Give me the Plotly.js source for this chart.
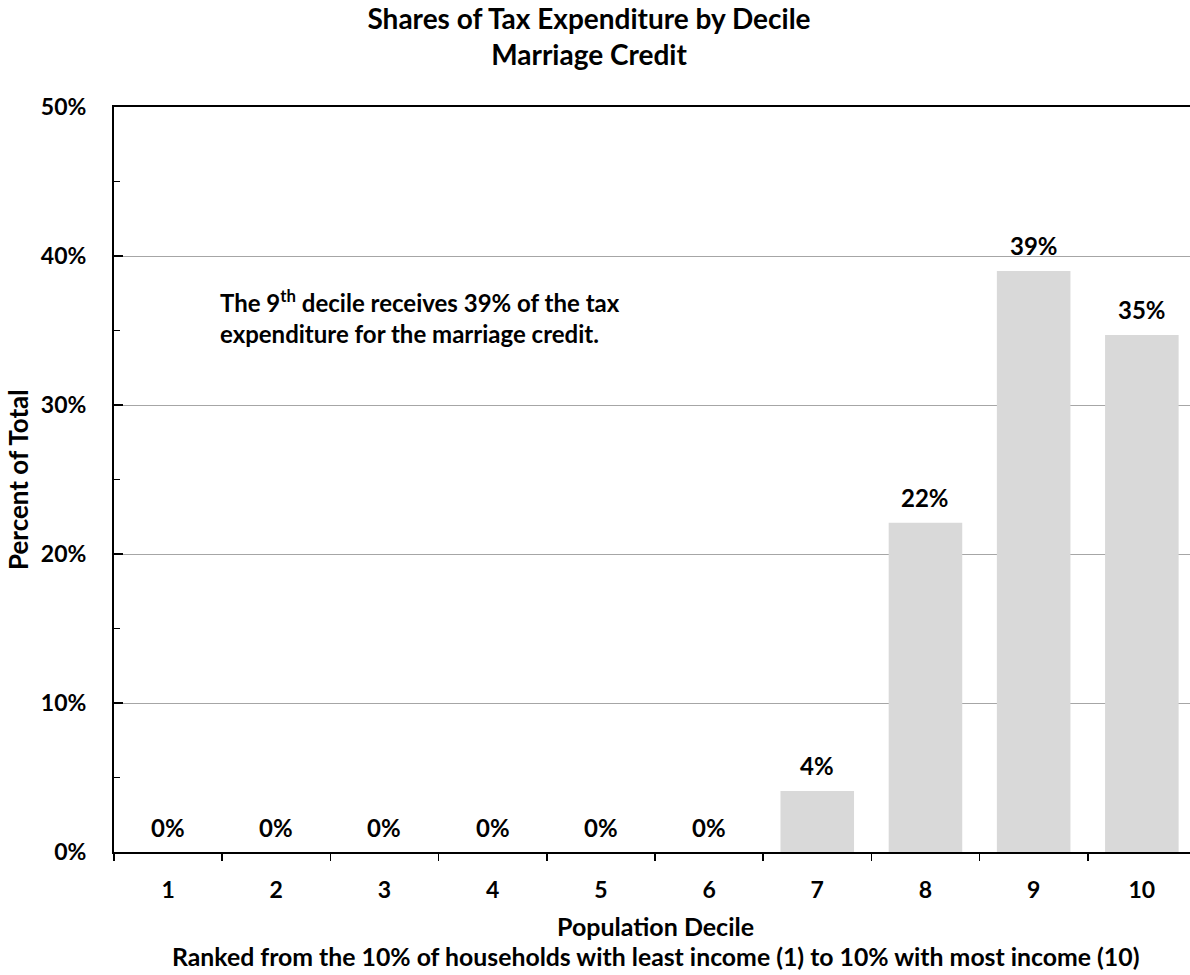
<!DOCTYPE html>
<html>
<head>
<meta charset="utf-8">
<script src="https://cdn.plot.ly/plotly-3.0.1.min.js"></script>
<style>html,body{margin:0;padding:0;background:#fff;overflow:hidden;}#chart{width:1190px;height:975px;}</style>
</head>
<body>
<div id="chart"></div>
<script>
const deciles = ['1','2','3','4','5','6','7','8','9','10'];
const shares = [0, 0, 0, 0, 0, 0, 4.1, 22.1, 39.0, 34.7];
const yTickVals = [0, 10, 20, 30, 40, 50];
const yTickText = ['0%', '10%', '20%', '30%', '40%', '50%'];
const titleText = 'Shares of Tax Expenditure by Decile<br>Marriage Credit';
const yTitle = 'Percent of Total';
const xTitle1 = 'Population Decile';
const xTitle2 = 'Ranked from the 10% of households with least income (1) to 10% with most income (10)';
const noteText = 'The 9<sup>th</sup> decile receives 39% of the tax<br>expenditure for the marriage credit.';

const FONT = 'Lato, "Liberation Sans", sans-serif';
const W = 1190, H = 975, L = 114, R = 0, T = 107, B = 123;
const PW = W - L - R, PH = H - T - B;
const px = v => (v - L) / PW;
const py = v => (H - B - v) / PH;

const labelAnnotations = deciles.map((d, i) => ({
  x: i, y: shares[i], xref: 'x', yref: 'y',
  text: Math.round(shares[i]) + '%',
  showarrow: false, yanchor: 'middle', yshift: 25,
  font: {family: FONT, size: 24, color: '#000', weight: 'bold'}
}));

const trace = {
  type: 'bar', x: deciles, y: shares,
  marker: {color: '#d9d9d9', line: {width: 0}},
  hoverinfo: 'skip'
};

const layout = {
  width: W, height: H,
  margin: {l: L, r: R, t: T, b: B},
  paper_bgcolor: '#fff', plot_bgcolor: '#fff',
  font: {family: FONT, size: 20, color: '#000', weight: 'bold'},
  showlegend: false,
  bargap: 0.32,
  title: {
    text: titleText, xref: 'container', x: 589 / W, xanchor: 'center',
    yref: 'container', y: 1 - 29 / H, yanchor: 'top',
    font: {family: FONT, size: 28, color: '#000', weight: 'bold'}
  },
  xaxis: {
    type: 'category', tickson: 'boundaries', range: [-0.5, 9.445],
    ticks: 'outside', ticklen: 7, tickwidth: 1.5, tickcolor: '#000',
    showline: true, linecolor: '#000', linewidth: 2, mirror: true,
    showgrid: false, zeroline: false,
    tickfont: {family: FONT, size: 23, color: '#000', weight: 'bold'},
    ticklabelstandoff: 16
  },
  yaxis: {
    range: [0, 50], tickvals: yTickVals, ticktext: yTickText,
    ticks: 'inside', ticklen: 9, tickwidth: 1.5, tickcolor: '#000',
    minor: {dtick: 5, ticks: 'inside', ticklen: 6, tickwidth: 1.5, tickcolor: '#000', showgrid: false},
    showline: true, linecolor: '#000', linewidth: 2,
    showgrid: true, gridcolor: '#a6a6a6', gridwidth: 1,
    zeroline: false,
    tickfont: {family: FONT, size: 23, color: '#000', weight: 'bold'},
    ticklabelstandoff: 21
  },
  annotations: labelAnnotations.concat([
    {xref: 'paper', yref: 'paper', x: px(18), y: py(480), textangle: -90,
     text: yTitle, showarrow: false, xanchor: 'center', yanchor: 'middle',
     font: {family: FONT, size: 26, color: '#000', weight: 'bold'}},
    {xref: 'paper', yref: 'paper', x: px(655), y: py(926),
     text: xTitle1, showarrow: false, xanchor: 'center', yanchor: 'middle',
     font: {family: FONT, size: 25, color: '#000', weight: 'bold'}},
    {xref: 'paper', yref: 'paper', x: px(655), y: py(957),
     text: xTitle2, showarrow: false, xanchor: 'center', yanchor: 'middle',
     font: {family: FONT, size: 24.8, color: '#000', weight: 'bold'}},
    {xref: 'paper', yref: 'paper', x: px(218), y: py(283),
     text: noteText, showarrow: false, xanchor: 'left', yanchor: 'top', align: 'left',
     font: {family: FONT, size: 24, color: '#000', weight: 'bold'}}
  ])
};

Plotly.newPlot('chart', [trace], layout, {displayModeBar: false, staticPlot: true});
</script>
</body>
</html>
